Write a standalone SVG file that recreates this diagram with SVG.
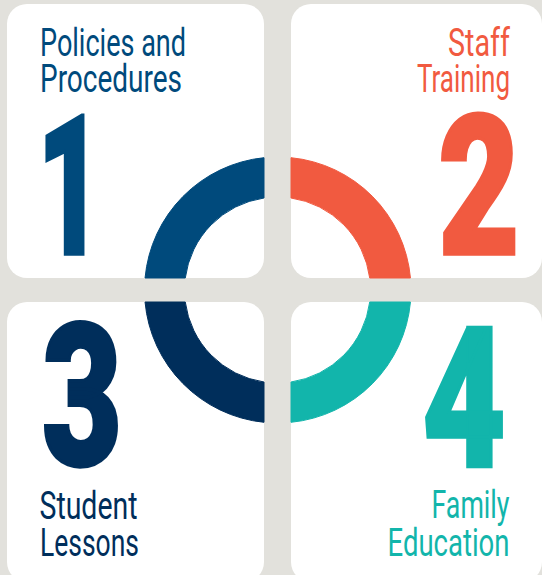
<svg xmlns="http://www.w3.org/2000/svg" width="542" height="575" viewBox="0 0 542 575">
<style>
.card{fill:#ffffff}
.lbl{font-family:Roboto,"Liberation Sans",sans-serif;font-size:39px;font-weight:400}
.num{font-family:Roboto,"Liberation Sans",sans-serif;font-size:195px;font-weight:900;stroke-width:3.5;stroke-linejoin:miter}
.c1{fill:#004a7c;stroke:#004a7c}
.c2{fill:#f15a40;stroke:#f15a40}
.c3{fill:#002e5b;stroke:#002e5b}
.c4{fill:#12b5ab;stroke:#12b5ab}
.lbl,path{stroke:none}
</style>
<rect x="0" y="0" width="542" height="575" fill="#e2e1dc"/>
<g id="node1">
<rect class="card" x="7" y="4" width="257" height="274" rx="20"/>
<path class="c1" d="M264,157.69 A133,133 0 0 0 145.04,278 L185.28,278 A93,93 0 0 1 264,197.99 Z"/>
<text class="lbl c1" x="40" y="56" textLength="146" lengthAdjust="spacingAndGlyphs">Policies and</text>
<text class="lbl c1" x="40" y="91.7" textLength="142" lengthAdjust="spacingAndGlyphs">Procedures</text>
<text class="num c1" text-anchor="middle" transform="translate(70,253.5) scale(0.58,1)">1</text>
</g>
<g id="node2">
<rect class="card" x="291" y="4" width="251" height="274" rx="20"/>
<path class="c2" d="M291,157.69 A133,133 0 0 1 410.46,278 L369.72,278 A93,93 0 0 0 291,197.99 Z"/>
<text class="lbl c2" x="510" y="56" text-anchor="end" textLength="62" lengthAdjust="spacingAndGlyphs">Staff</text>
<text class="lbl c2" x="510" y="91.7" text-anchor="end" textLength="93" lengthAdjust="spacingAndGlyphs">Training</text>
<text class="num c2" text-anchor="middle" transform="translate(479,253.5) scale(0.72,1)">2</text>
</g>
<g id="node3">
<rect class="card" x="7" y="302" width="257" height="280" rx="20"/>
<path class="c3" d="M145.04,302 A133,133 0 0 0 264,422.31 L264,382.01 A93,93 0 0 1 185.28,302 Z"/>
<text class="num c3" text-anchor="middle" transform="translate(82,465) scale(0.71,1.02)">3</text>
<text class="lbl c3" x="39.5" y="519.3" textLength="98" lengthAdjust="spacingAndGlyphs">Student</text>
<text class="lbl c3" x="40" y="555.7" textLength="99" lengthAdjust="spacingAndGlyphs">Lessons</text>
</g>
<g id="node4">
<rect class="card" x="291" y="302" width="251" height="280" rx="20"/>
<path class="c4" d="M410.46,302 A133,133 0 0 1 291,422.31 L291,382.01 A93,93 0 0 0 369.72,302 Z"/>
<text class="num c4" text-anchor="middle" transform="translate(464,466) scale(0.74,1)">4</text>
<text class="lbl c4" x="509.5" y="518.3" text-anchor="end" textLength="78" lengthAdjust="spacingAndGlyphs">Family</text>
<text class="lbl c4" x="509.5" y="555.7" text-anchor="end" textLength="122" lengthAdjust="spacingAndGlyphs">Education</text>
</g>
<g id="connectors"/>
</svg>
